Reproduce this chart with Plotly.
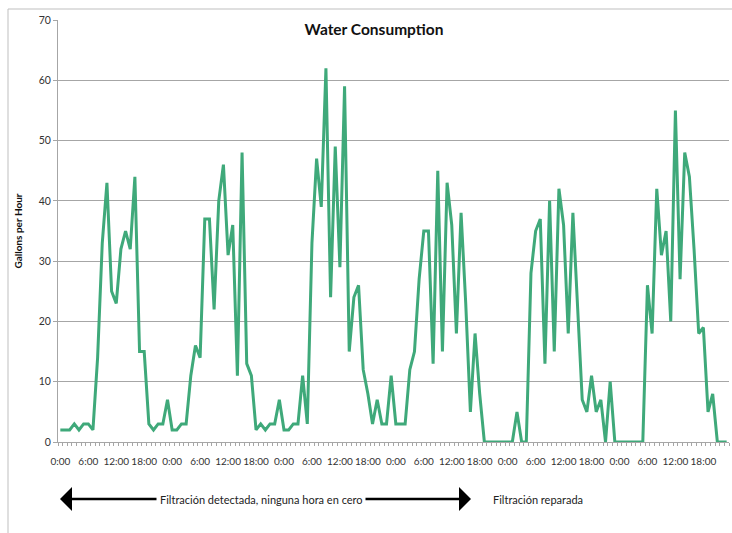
import plotly.graph_objects as go

# Hourly water consumption (gallons per hour), 6 days x 24 hours
day1 = [2, 2, 2, 3, 2, 3, 3, 2, 14, 33, 43, 25, 23, 32, 35, 32, 44, 15, 15, 3, 2, 3, 3, 7]
day2 = [2, 2, 3, 3, 11, 16, 14, 37, 37, 22, 40, 46, 31, 36, 11, 48, 13, 11, 2, 3, 2, 3, 3, 7]
day3 = [2, 2, 3, 3, 11, 3, 33, 47, 39, 62, 24, 49, 29, 59, 15, 24, 26, 12, 8, 3, 7, 3, 3, 11]
day4 = [3, 3, 3, 12, 15, 27, 35, 35, 13, 45, 15, 43, 36, 18, 38, 23, 5, 18, 8, 0, 0, 0, 0, 0]
day5 = [0, 0, 5, 0, 0, 28, 35, 37, 13, 40, 15, 42, 36, 18, 38, 23, 7, 5, 11, 5, 7, 0, 10, 0]
day6 = [0, 0, 0, 0, 0, 0, 26, 18, 42, 31, 35, 20, 55, 27, 48, 44, 32, 18, 19, 5, 8, 0, 0, 0]

hour_labels = ["0:00", "6:00", "12:00", "18:00"]
n_days = 6

values = day1 + day2 + day3 + day4 + day5 + day6
hours = list(range(len(values)))
tick_positions = list(range(0, len(values), 6))
tick_text = hour_labels * n_days

FONT = "Lato"
GREEN = "#3fa97a"
GRID = "#a6a6a6"

fig = go.Figure()
fig.add_trace(go.Scatter(
    x=hours, y=values, mode="lines",
    line=dict(color=GREEN, width=3),
    hoverinfo="skip", showlegend=False, cliponaxis=False,
))

fig.update_layout(
    width=732, height=533,
    margin=dict(l=58, r=3, t=20, b=91, autoexpand=False),
    paper_bgcolor="white", plot_bgcolor="white",
    font=dict(family=FONT, size=10, color="#333333"),
    title=dict(text="<b>Water Consumption</b>", x=374/732, xanchor="center",
               y=1 - 30/533, yanchor="middle", pad=dict(t=0, b=0, l=0, r=0),
               font=dict(family=FONT, size=15.5, color="#111111")),
    showlegend=False,
)

fig.update_xaxes(
    range=[-0.5, len(values) - 0.5], automargin=False,
    tickmode="array", tickvals=tick_positions, ticktext=tick_text,
    ticks="", showgrid=False, zeroline=False,
    showline=True, linecolor=GRID, linewidth=1,
    tickfont=dict(size=10, color="#333333"),
    ticklabelstandoff=10,
    minor=dict(tickmode="array",
               tickvals=[h - 0.5 for h in hours] + [len(values) - 0.5],
               ticks="outside", ticklen=3, tickcolor=GRID, tickwidth=1,
               showgrid=False),
)

fig.update_yaxes(
    range=[0, 70], dtick=10, tick0=0, automargin=False,
    showgrid=True, gridcolor=GRID, gridwidth=1,
    zeroline=False,
    showline=True, linecolor=GRID, linewidth=1,
    ticks="outside", ticklen=4, tickcolor=GRID,
    tickfont=dict(size=10.5, color="#333333"),
    title=dict(text="<b>Gallons per Hour</b>", font=dict(size=10, color="#111111"),
               standoff=14),
)

# Chart border (partially visible)
fig.add_shape(type="rect", xref="paper", yref="paper",
              x0=(8 - 58) / 671, x1=1.2, y0=-0.5, y1=(442 - 9) / 422,
              line=dict(color="#bfbfbf", width=1), layer="below")

arrow_y = (442 - 499) / 422
# Left arrow
fig.add_annotation(xref="paper", yref="paper", x=(60 - 58) / 671, y=arrow_y,
                   ax=98, ay=0, text="", showarrow=True,
                   arrowhead=1, arrowsize=1.6, arrowwidth=2.5, arrowcolor="black")
# Right arrow
fig.add_annotation(xref="paper", yref="paper", x=(471 - 58) / 671, y=arrow_y,
                   ax=-107, ay=0, text="", showarrow=True,
                   arrowhead=1, arrowsize=1.6, arrowwidth=2.5, arrowcolor="black")
fig.add_annotation(xref="paper", yref="paper", x=(261 - 58) / 671, y=arrow_y,
                   text="Filtración detectada, ninguna hora en cero", showarrow=False,
                   xanchor="center", yanchor="middle", bgcolor="white",
                   font=dict(size=11, color="#222222"))
fig.add_annotation(xref="paper", yref="paper", x=(491 - 58) / 671, y=arrow_y,
                   text="Filtración reparada", showarrow=False,
                   xanchor="left", yanchor="middle",
                   font=dict(size=11, color="#222222"))

fig.write_html("out.html",
               config={"displayModeBar": False},
               post_script="document.body.style.margin='0';document.body.style.overflow='hidden';")
